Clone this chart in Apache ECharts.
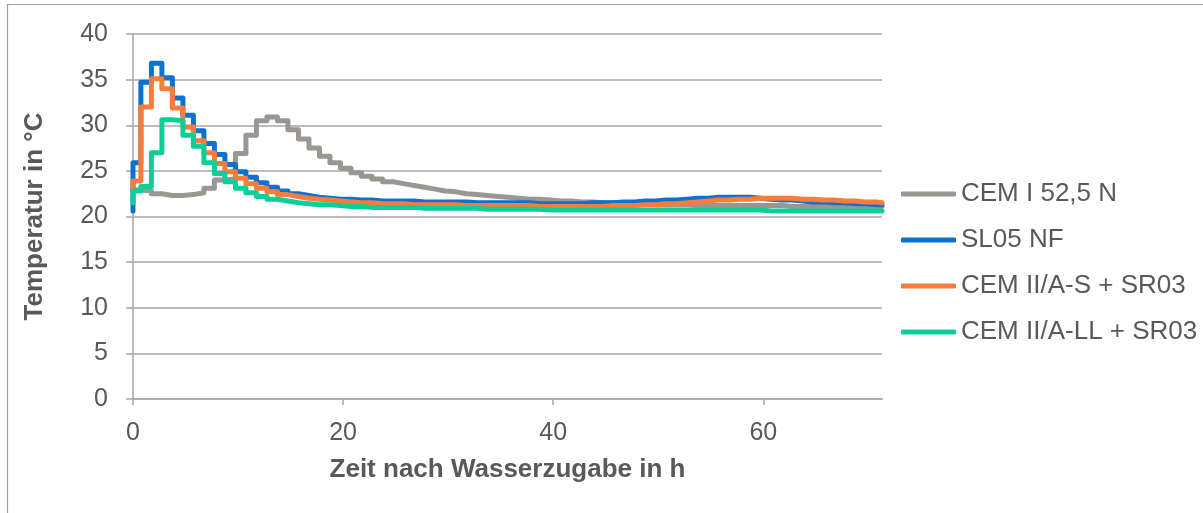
<!DOCTYPE html>
<html>
<head>
<meta charset="utf-8">
<script src="https://cdn.jsdelivr.net/npm/echarts@6/dist/echarts.min.js"></script>
<style>
html,body{margin:0;padding:0;background:#fff;}
#chart{width:1203px;height:513px;}
</style>
</head>
<body>
<div id="chart"></div>
<script>
// time axis (h): start point, then step boundaries
const hours = [0, 0, 0.75, 1.75, 2.75, 3.75, 4.75, 5.75, 6.75, 7.75, 8.75, 9.75, 10.75, 11.75, 12.75, 13.75, 14.75, 15.75, 16.75, 17.75, 18.75, 19.75, 20.75, 21.75, 22.75, 23.75, 24.75, 25.75, 26.75, 27.75, 28.75, 29.75, 30.75, 31.75, 32.75, 33.75, 34.75, 35.75, 36.75, 37.75, 38.75, 39.75, 40.75, 41.75, 42.75, 43.75, 44.75, 45.75, 46.75, 47.75, 48.75, 49.75, 50.75, 51.75, 52.75, 53.75, 54.75, 55.75, 56.75, 57.75, 58.75, 59.75, 60.75, 61.75, 62.75, 63.75, 64.75, 65.75, 66.75, 67.75, 68.75, 69.75, 70.75, 71.3];

const seriesNames = ['CEM I 52,5 N', 'SL05 NF', 'CEM II/A-S + SR03', 'CEM II/A-LL + SR03'];

const cemI = [22.9,
  22.9, 22.8, 22.5, 22.3, 22.3, 22.4, 22.6, 23.1, 24.0, 24.1,
  26.9, 28.9, 30.5, 30.9, 30.5, 29.5, 28.5, 27.5, 26.6, 25.9,
  25.3, 24.8, 24.4, 24.1, 23.8, 23.6, 23.4, 23.2, 23.0, 22.8,
  22.7, 22.5, 22.4, 22.3, 22.2, 22.1, 22.0, 21.9, 21.9, 21.8,
  21.7, 21.7, 21.6, 21.6, 21.5, 21.5, 21.4, 21.4, 21.4, 21.3,
  21.3, 21.3, 21.3, 21.2, 21.2, 21.2, 21.2, 21.2, 21.2, 21.2,
  21.2, 21.2, 21.1, 21.1, 21.1, 21.1, 21.1, 21.1, 21.1, 21.1,
  21.1, 21.1,
  21.1];

const sl05 = [20.6,
  25.9, 34.7, 36.8, 35.2, 33.0, 31.1, 29.4, 28.0, 26.8, 25.7,
  24.9, 24.3, 23.7, 23.2, 22.8, 22.5, 22.3, 22.1, 22.0, 21.9,
  21.9, 21.8, 21.8, 21.7, 21.7, 21.7, 21.7, 21.6, 21.6, 21.6,
  21.6, 21.6, 21.5, 21.5, 21.5, 21.5, 21.5, 21.5, 21.4, 21.4,
  21.4, 21.4, 21.4, 21.5, 21.5, 21.5, 21.6, 21.6, 21.7, 21.7,
  21.8, 21.8, 21.9, 22.0, 22.0, 22.1, 22.1, 22.1, 22.1, 22.0,
  21.9, 21.8, 21.8, 21.7, 21.6, 21.6, 21.5, 21.5, 21.4, 21.4,
  21.3, 21.3,
  21.3];

const cemIIS = [23.2,
  23.9, 32.0, 35.1, 34.0, 31.9, 29.8, 28.3, 27.0, 25.8, 24.9,
  24.2, 23.6, 23.1, 22.7, 22.4, 22.2, 22.0, 21.9, 21.8, 21.7,
  21.6, 21.5, 21.5, 21.4, 21.4, 21.4, 21.3, 21.3, 21.3, 21.3,
  21.3, 21.2, 21.2, 21.2, 21.2, 21.2, 21.2, 21.2, 21.1, 21.1,
  21.1, 21.1, 21.1, 21.1, 21.1, 21.2, 21.2, 21.2, 21.3, 21.3,
  21.4, 21.4, 21.5, 21.6, 21.7, 21.8, 21.8, 21.9, 21.9, 22.0,
  22.0, 22.0, 22.0, 21.9, 21.9, 21.8, 21.8, 21.7, 21.7, 21.6,
  21.6, 21.5,
  21.5];

const cemIILL = [21.5,
  22.8, 23.3, 27.0, 30.6, 30.5, 28.9, 27.7, 25.9, 24.7, 23.8,
  23.1, 22.6, 22.2, 21.9, 21.7, 21.5, 21.4, 21.3, 21.3, 21.2,
  21.1, 21.1, 21.0, 21.0, 21.0, 21.0, 21.0, 20.9, 20.9, 20.9,
  20.9, 20.9, 20.9, 20.8, 20.8, 20.8, 20.8, 20.8, 20.8, 20.7,
  20.7, 20.7, 20.7, 20.7, 20.7, 20.7, 20.7, 20.7, 20.7, 20.7,
  20.7, 20.7, 20.7, 20.7, 20.7, 20.7, 20.7, 20.7, 20.7, 20.7,
  20.6, 20.6, 20.6, 20.6, 20.6, 20.6, 20.6, 20.6, 20.6, 20.6,
  20.6, 20.6,
  20.6];

const xTicks = [0, 20, 40, 60];
const colors = ['#9a9692', '#0b72cf', '#fa7c3a', '#0ccf98'];
const allValues = [cemI, sl05, cemIIS, cemIILL];

const FONT = '"Liberation Sans", Arial, sans-serif';
const TXT = '#595959';
const GRID = '#a6a6a6';

const chart = echarts.init(document.getElementById('chart'), null, {renderer: 'canvas'});
chart.setOption({
  animation: false,
  backgroundColor: '#fff',
  graphic: [{
    type: 'rect',
    shape: {x: 7.5, y: 4.5, width: 1400, height: 700},
    style: {fill: 'none', stroke: '#a0a0a0', lineWidth: 1.2},
    silent: true, z: -1
  }],
  grid: {left: 133, top: 34, right: 1203 - 882, bottom: 513 - 399, containLabel: false},
  legend: {
    orient: 'vertical',
    left: 896, top: 176,
    itemWidth: 55, itemHeight: 5, itemGap: 20,
    icon: 'roundRect',
    textStyle: {fontFamily: FONT, fontSize: 26, color: TXT, lineHeight: 26},
    data: seriesNames
  },
  xAxis: {
    type: 'value', min: 0, max: 71.3, interval: 20,
    name: 'Zeit nach Wasserzugabe in h',
    nameLocation: 'middle', nameGap: 58,
    nameTextStyle: {fontFamily: FONT, fontSize: 26, fontWeight: 'bold', color: TXT, verticalAlign: 'top'},
    axisLine: {show: true, lineStyle: {color: GRID, width: 1.5}},
    axisTick: {show: true, length: 6, lineStyle: {color: GRID, width: 1.5}, customValues: xTicks},
    axisLabel: {fontFamily: FONT, fontSize: 25, color: TXT, margin: 22, customValues: xTicks},
    splitLine: {show: false}
  },
  yAxis: {
    type: 'value', min: 0, max: 40, interval: 5,
    name: 'Temperatur in °C',
    nameLocation: 'middle', nameGap: 85,
    nameTextStyle: {fontFamily: FONT, fontSize: 26, fontWeight: 'bold', color: TXT},
    axisLine: {show: true, lineStyle: {color: GRID, width: 1.5}},
    axisTick: {show: true, length: 7, lineStyle: {color: GRID, width: 1.5}},
    axisLabel: {fontFamily: FONT, fontSize: 25, color: TXT, margin: 25},
    splitLine: {show: true, lineStyle: {color: GRID, width: 1.5}}
  },
  series: seriesNames.map((name, k) => ({
    name: name,
    type: 'line',
    step: 'end',
    symbol: 'none',
    showSymbol: false,
    color: colors[k],
    lineStyle: {width: 5, color: colors[k], join: 'round', cap: 'round'},
    data: hours.map((h, i) => [h, allValues[k][i]])
  }))
});
</script>
</body>
</html>
